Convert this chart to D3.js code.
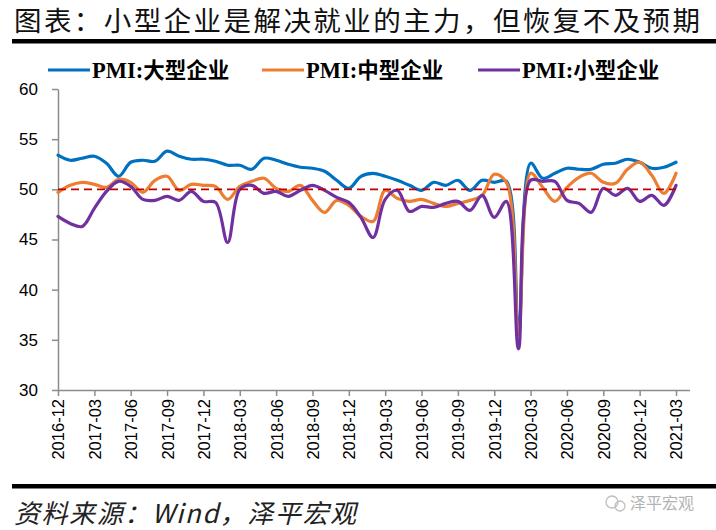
<!DOCTYPE html>
<html><head><meta charset="utf-8">
<script src="https://cdn.jsdelivr.net/npm/d3@7/dist/d3.min.js"></script>
<style>
html,body{margin:0;padding:0;background:#fff;}
svg{display:block;}
</style></head>
<body>
<svg id="chart" width="716" height="530"></svg>
<script>
const months = [
 "2016-12","2017-01","2017-02","2017-03","2017-04","2017-05","2017-06","2017-07","2017-08","2017-09","2017-10","2017-11",
 "2017-12","2018-01","2018-02","2018-03","2018-04","2018-05","2018-06","2018-07","2018-08","2018-09","2018-10","2018-11",
 "2018-12","2019-01","2019-02","2019-03","2019-04","2019-05","2019-06","2019-07","2019-08","2019-09","2019-10","2019-11",
 "2019-12","2020-01","2020-02","2020-03","2020-04","2020-05","2020-06","2020-07","2020-08","2020-09","2020-10","2020-11",
 "2020-12","2021-01","2021-02","2021-03"];
const tickLabels = ["2016-12","2017-03","2017-06","2017-09","2017-12","2018-03","2018-06","2018-09","2018-12",
 "2019-03","2019-06","2019-09","2019-12","2020-03","2020-06","2020-09","2020-12","2021-03"];
const large = [53.4,52.9,53.1,53.3,52.6,51.3,52.7,52.9,52.8,53.8,53.3,53.0,
 53.0,52.8,52.4,52.4,52.0,53.1,52.9,52.5,52.2,52.1,51.8,50.9,
 50.1,51.3,51.6,51.3,50.9,50.4,49.9,50.7,50.4,50.9,49.9,50.9,
 50.7,50.8,36.3,52.6,51.1,51.6,52.1,52.0,52.0,52.5,52.6,53.0,
 52.7,52.1,52.2,52.7];
const medium = [49.7,50.4,50.7,50.5,50.2,51.0,50.7,49.7,50.9,51.3,49.9,50.5,
 50.4,50.3,49.0,50.3,50.8,51.1,50.1,49.8,50.4,48.9,47.7,48.9,
 48.4,47.3,46.8,49.9,49.1,48.8,49.0,48.6,48.3,48.6,48.9,49.4,
 51.5,50.7,35.5,51.6,50.2,48.8,50.2,51.2,51.6,50.7,50.6,52.0,
 52.7,51.4,49.6,51.6];
const small = [47.3,46.6,46.3,48.1,49.8,50.8,50.3,49.0,48.9,49.3,48.9,49.8,
 48.8,48.7,44.7,50.0,50.4,49.6,49.8,49.3,49.9,50.4,49.9,49.2,
 48.7,47.2,45.2,49.0,49.9,47.8,48.3,48.2,48.6,48.8,47.9,49.4,
 47.2,48.8,34.1,50.9,50.8,50.8,48.9,48.6,47.7,50.1,49.4,50.1,
 48.8,49.4,48.4,50.4];
const seriesNames = ["PMI:大型企业","PMI:中型企业","PMI:小型企业"];
const seriesColors = ["#0070C0","#ED7D31","#7030A0"];
const yTicks = [30,35,40,45,50,55,60];
const refValue = 50;

const svg = d3.select("#chart");
const x = d3.scaleLinear().domain([0, months.length-1]).range([58, 676]);
const y = d3.scaleLinear().domain([30, 60]).range([390, 89]);

// title
svg.append("text").attr("x", 14).attr("y", 31)
  .attr("font-family", "'Noto Sans CJK SC', sans-serif").attr("font-size", 27.5)
  .attr("textLength", 686).attr("lengthAdjust", "spacing")
  .attr("fill", "#111").text("图表：小型企业是解决就业的主力，但恢复不及预期");
svg.append("rect").attr("x", 12).attr("y", 39).attr("width", 704).attr("height", 4.5).attr("fill", "#000");

// y axis
const yAxis = d3.axisLeft(y).tickValues(yTicks).tickSize(6).tickPadding(14).tickSizeOuter(0);
const gy = svg.append("g").attr("transform", "translate(58,0)").call(yAxis);
gy.select(".domain").attr("stroke", "#8c8c8c").attr("stroke-width", 1.5);
gy.selectAll(".tick line").attr("stroke", "#8c8c8c").attr("stroke-width", 1.5);
gy.selectAll(".tick text").attr("font-family", "'Liberation Sans', Arial, sans-serif")
  .attr("font-size", 17).attr("fill", "#000");

// x axis
const labelIdx = tickLabels.map(t => months.indexOf(t));
const xAxis = d3.axisBottom(x).tickValues(labelIdx).tickFormat(i => months[i]).tickSize(6).tickSizeOuter(0);
const gx = svg.append("g").attr("transform", "translate(0,390)").call(xAxis);
gx.select(".domain").attr("d", "M58,0.5H690").attr("stroke", "#8c8c8c").attr("stroke-width", 1.5);
gx.selectAll(".tick line").attr("stroke", "#8c8c8c").attr("stroke-width", 1.5);
gx.selectAll(".tick text")
  .attr("font-family", "'Liberation Sans', Arial, sans-serif").attr("font-size", 16.5)
  .attr("fill", "#000").attr("text-anchor", "end")
  .attr("transform", "rotate(-90)").attr("x", -9).attr("y", 0).attr("dy", "0.36em");

// lines
const line = d3.line().x((d, i) => x(i)).y(d => y(d)).curve(d3.curveCatmullRom.alpha(0.5));
[large, medium, small].forEach((s, k) => {
  svg.append("path").datum(s).attr("d", line).attr("fill", "none")
    .attr("stroke", seriesColors[k]).attr("stroke-width", 3.2)
    .attr("stroke-linejoin", "round").attr("stroke-linecap", "round");
});

// reference line at 50
svg.append("line").attr("x1", x(0)).attr("x2", x(months.length-1))
  .attr("y1", y(refValue)).attr("y2", y(refValue))
  .attr("stroke", "#C00000").attr("stroke-width", 1.6).attr("stroke-dasharray", "8,5");

// legend
const legendX = [48, 262, 478];
seriesNames.forEach((name, k) => {
  const g = svg.append("g").attr("transform", `translate(${legendX[k]},70)`);
  g.append("line").attr("x1", 0).attr("x2", 42).attr("y1", 0).attr("y2", 0)
    .attr("stroke", seriesColors[k]).attr("stroke-width", 3.2);
  const t = g.append("text").attr("x", 44).attr("y", 7.5).attr("font-weight", "bold").attr("fill", "#000");
  t.append("tspan").attr("font-family", "'Liberation Serif', 'Times New Roman', serif").attr("font-size", 22.5).text(name.slice(0, 4));
  t.append("tspan").attr("font-family", "'Noto Sans CJK SC', sans-serif").attr("font-size", 21.5).text(name.slice(4));
});

// footer
svg.append("rect").attr("x", 12).attr("y", 484).attr("width", 704).attr("height", 4.5).attr("fill", "#000");
svg.append("text").attr("x", 14).attr("y", 523)
  .attr("font-family", "'Noto Sans CJK SC', sans-serif").attr("font-size", 26)
  .attr("font-style", "italic").attr("fill", "#222")
  .attr("textLength", 342).attr("lengthAdjust", "spacing")
  .text("资料来源：Wind，泽平宏观");
// watermark
const wm = svg.append("g").attr("transform", "translate(612,503)").attr("opacity", 0.75);
wm.append("circle").attr("cx", 0).attr("cy", -1).attr("r", 6).attr("fill", "none").attr("stroke", "#aaa").attr("stroke-width", 1.3);
wm.append("circle").attr("cx", 8).attr("cy", 3).attr("r", 5).attr("fill", "none").attr("stroke", "#aaa").attr("stroke-width", 1.3);
wm.append("text").attr("x", 18).attr("y", 6).attr("font-family", "'Noto Sans CJK SC', sans-serif")
  .attr("font-size", 16).attr("fill", "#999").text("泽平宏观");
</script>
</body></html>
